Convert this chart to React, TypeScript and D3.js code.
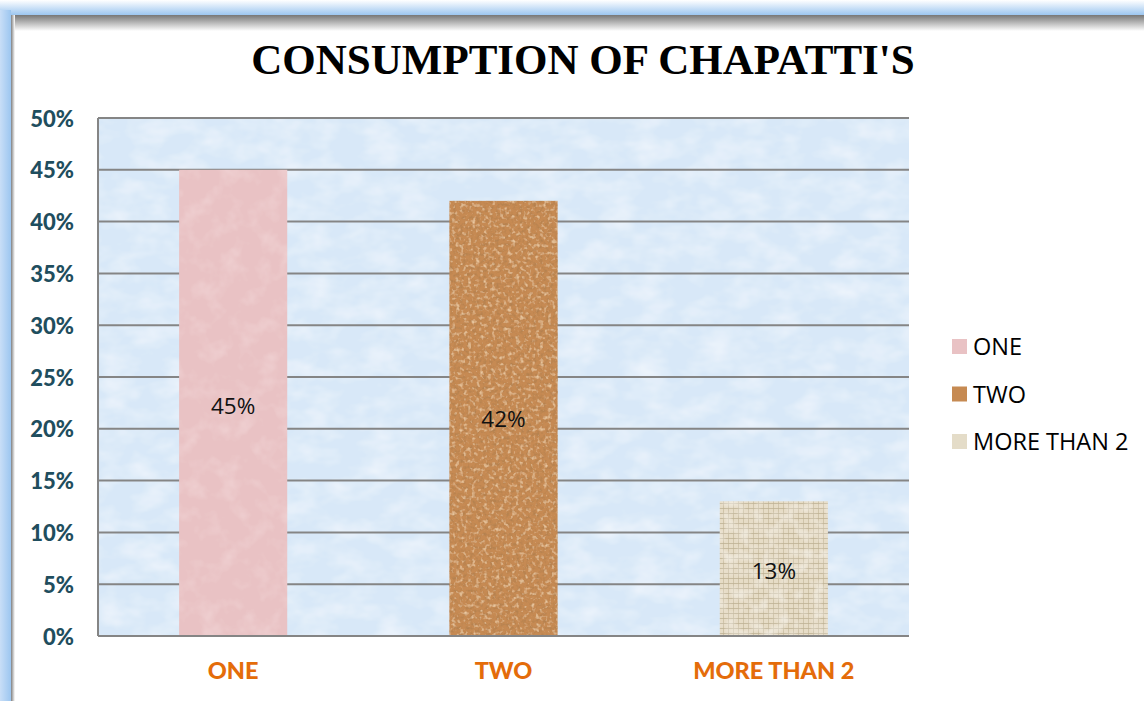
import React from "react";
import * as d3 from "d3";

const categories = ["ONE", "TWO", "MORE THAN 2"];
const values = [45, 42, 13];
const valueLabels = ["45%", "42%", "13%"];
const yTicks = [0, 5, 10, 15, 20, 25, 30, 35, 40, 45, 50];
const title = "CONSUMPTION OF CHAPATTI'S";

const W = 1144;
const H = 701;
const plot = { left: 98, right: 909, top: 118, bottom: 636 };
const labelY = [405, 418, 570];

export default function App() {
  const x = d3
    .scaleBand<string>()
    .domain(categories)
    .range([plot.left, plot.right])
    .paddingInner(0.6)
    .paddingOuter(0.3);
  const y = d3.scaleLinear().domain([0, 50]).range([plot.bottom, plot.top]);

  return (
    <svg
      width={W}
      height={H}
      style={{ position: "absolute", left: 0, top: 0, display: "block" }}
    >
      <defs>
        <linearGradient id="topBlue" x1="0" y1="0" x2="0" y2="1">
          <stop offset="0" stopColor="#ffffff" />
          <stop offset="1" stopColor="#9cc6f0" />
        </linearGradient>
        <linearGradient id="leftBlue" x1="0" y1="0" x2="1" y2="0">
          <stop offset="0" stopColor="#c8def7" />
          <stop offset="1" stopColor="#9cc6f0" />
        </linearGradient>
        <linearGradient id="topShadow" x1="0" y1="0" x2="0" y2="1">
          <stop offset="0" stopColor="#777777" />
          <stop offset="1" stopColor="#ffffff" />
        </linearGradient>
        <linearGradient id="leftShadow" x1="0" y1="0" x2="1" y2="0">
          <stop offset="0" stopColor="#808080" />
          <stop offset="1" stopColor="#ffffff" />
        </linearGradient>

        <filter id="bgNoise" x="0" y="0" width="100%" height="100%">
          <feTurbulence type="fractalNoise" baseFrequency="0.03 0.05" numOctaves="3" seed="4" result="n" />
          <feColorMatrix
            in="n"
            type="matrix"
            values="0 0 0 0 1  0 0 0 0 1  0 0 0 0 1  0.9 0 0 0 -0.35"
            result="w"
          />
          <feComposite in="w" in2="SourceGraphic" operator="in" result="wm" />
          <feMerge>
            <feMergeNode in="SourceGraphic" />
            <feMergeNode in="wm" />
          </feMerge>
        </filter>

        <filter id="pinkNoise" x="0" y="0" width="100%" height="100%">
          <feTurbulence type="fractalNoise" baseFrequency="0.05" numOctaves="3" seed="7" result="n" />
          <feColorMatrix
            in="n"
            type="matrix"
            values="0 0 0 0 1  0 0 0 0 0.9  0 0 0 0 0.9  0.6 0 0 0 -0.28"
            result="w"
          />
          <feComposite in="w" in2="SourceGraphic" operator="in" result="wm" />
          <feMerge>
            <feMergeNode in="SourceGraphic" />
            <feMergeNode in="wm" />
          </feMerge>
        </filter>

        <filter id="corkNoise" x="0" y="0" width="100%" height="100%">
          <feTurbulence type="fractalNoise" baseFrequency="0.3" numOctaves="2" seed="11" result="n" />
          <feColorMatrix
            in="n"
            type="matrix"
            values="0 0 0 0 0.45  0 0 0 0 0.22  0 0 0 0 0.08  -2.6 0 0 0 1.4"
            result="dark"
          />
          <feComposite in="dark" in2="SourceGraphic" operator="in" result="dm" />
          <feTurbulence type="fractalNoise" baseFrequency="0.25" numOctaves="2" seed="3" result="n2" />
          <feColorMatrix
            in="n2"
            type="matrix"
            values="0 0 0 0 0.92  0 0 0 0 0.7  0 0 0 0 0.45  2.0 0 0 0 -1.05"
            result="light"
          />
          <feComposite in="light" in2="SourceGraphic" operator="in" result="lm" />
          <feMerge>
            <feMergeNode in="SourceGraphic" />
            <feMergeNode in="dm" />
            <feMergeNode in="lm" />
          </feMerge>
        </filter>

        <pattern id="burlapGrid" width="5" height="5" patternUnits="userSpaceOnUse">
          <rect width="5" height="5" fill="#e6dcc6" />
          <rect x="0" y="3" width="5" height="1" fill="#b8ab8e" opacity="0.7" />
          <rect x="3" y="0" width="1" height="5" fill="#bfb295" opacity="0.6" />
        </pattern>
        <filter id="burlapNoise" x="0" y="0" width="100%" height="100%">
          <feTurbulence type="fractalNoise" baseFrequency="0.08" numOctaves="2" seed="5" result="n" />
          <feColorMatrix
            in="n"
            type="matrix"
            values="0 0 0 0 0.95  0 0 0 0 0.93  0 0 0 0 0.88  1.2 0 0 0 -0.5"
            result="w"
          />
          <feComposite in="w" in2="SourceGraphic" operator="in" result="wm" />
          <feMerge>
            <feMergeNode in="SourceGraphic" />
            <feMergeNode in="wm" />
          </feMerge>
        </filter>
      </defs>

      {/* frame */}
      <rect x={0} y={0} width={W} height={H} fill="#ffffff" />
      <rect x={0} y={0} width={W} height={15} fill="url(#topBlue)" />
      <rect x={0} y={10} width={11} height={H - 10} fill="url(#leftBlue)" />
      <rect x={11} y={15} width={W - 11} height={16} fill="url(#topShadow)" />
      <rect x={11} y={15} width={4} height={H - 15} fill="url(#leftShadow)" />

      {/* title */}
      <text
        x={583}
        y={74}
        textAnchor="middle"
        fontFamily="'Liberation Serif', 'Times New Roman', serif"
        fontWeight="bold"
        fontSize={43}
        fill="#000"
      >
        {title}
      </text>

      {/* plot background */}
      <g filter="url(#bgNoise)">
        <rect
          x={plot.left}
          y={plot.top}
          width={plot.right - plot.left}
          height={plot.bottom - plot.top}
          fill="#d8e8f8"
        />
      </g>

      {/* gridlines */}
      {yTicks.map((t) => (
        <line
          key={t}
          x1={plot.left}
          x2={plot.right}
          y1={y(t)}
          y2={y(t)}
          stroke="#858585"
          strokeWidth={2}
        />
      ))}
      <line x1={plot.left} x2={plot.left} y1={plot.top} y2={plot.bottom} stroke="#858585" strokeWidth={2} />

      {/* bars */}
      {categories.map((c, i) => {
        const bx = x(c)!;
        const bw = x.bandwidth();
        const by = y(values[i]);
        const bh = y(0) - by;
        if (i === 0)
          return (
            <g key={c} filter="url(#pinkNoise)">
              <rect x={bx} y={by} width={bw} height={bh} fill="#e9c2c4" />
            </g>
          );
        if (i === 1)
          return (
            <g key={c} filter="url(#corkNoise)">
              <rect x={bx} y={by} width={bw} height={bh} fill="#c68a52" />
            </g>
          );
        return (
          <g key={c} filter="url(#burlapNoise)">
            <rect x={bx} y={by} width={bw} height={bh} fill="url(#burlapGrid)" />
          </g>
        );
      })}

      <line x1={plot.left} x2={plot.right} y1={plot.bottom} y2={plot.bottom} stroke="#858585" strokeWidth={2} />

      {/* value labels */}
      {categories.map((c, i) => (
        <text
          key={c}
          x={x(c)! + x.bandwidth() / 2}
          y={labelY[i]}
          textAnchor="middle"
          dominantBaseline="central"
          fontFamily="'Open Sans', sans-serif"
          fontSize={22.5}
          fill="#111"
        >
          {valueLabels[i]}
        </text>
      ))}

      {/* y tick labels */}
      {yTicks.map((t) => (
        <text
          key={t}
          x={74}
          y={y(t)}
          textAnchor="end"
          dominantBaseline="central"
          fontFamily="Lato, 'Open Sans', sans-serif"
          fontWeight="900"
          fontSize={22}
          fill="#1f4e5e"
        >
          {t}%
        </text>
      ))}

      {/* x labels */}
      {categories.map((c) => (
        <text
          key={c}
          x={x(c)! + x.bandwidth() / 2}
          y={670}
          textAnchor="middle"
          dominantBaseline="central"
          fontFamily="Lato, 'Open Sans', sans-serif"
          fontWeight="900"
          fontSize={23.5}
          fill="#e46c0a"
        >
          {c}
        </text>
      ))}

      {/* legend */}
      {categories.map((c, i) => {
        const ly = 346 + i * 47.5;
        return (
          <g key={c}>
            <rect
              x={952}
              y={ly - 7}
              width={15}
              height={15}
              fill={i === 0 ? "#e9c2c4" : i === 1 ? "#c68a52" : "#e4dcc8"}
            />
            <text
              x={973}
              y={ly}
              dominantBaseline="central"
              fontFamily="'Open Sans', sans-serif"
              fontSize={23.5}
              fill="#000"
            >
              {c}
            </text>
          </g>
        );
      })}
    </svg>
  );
}
